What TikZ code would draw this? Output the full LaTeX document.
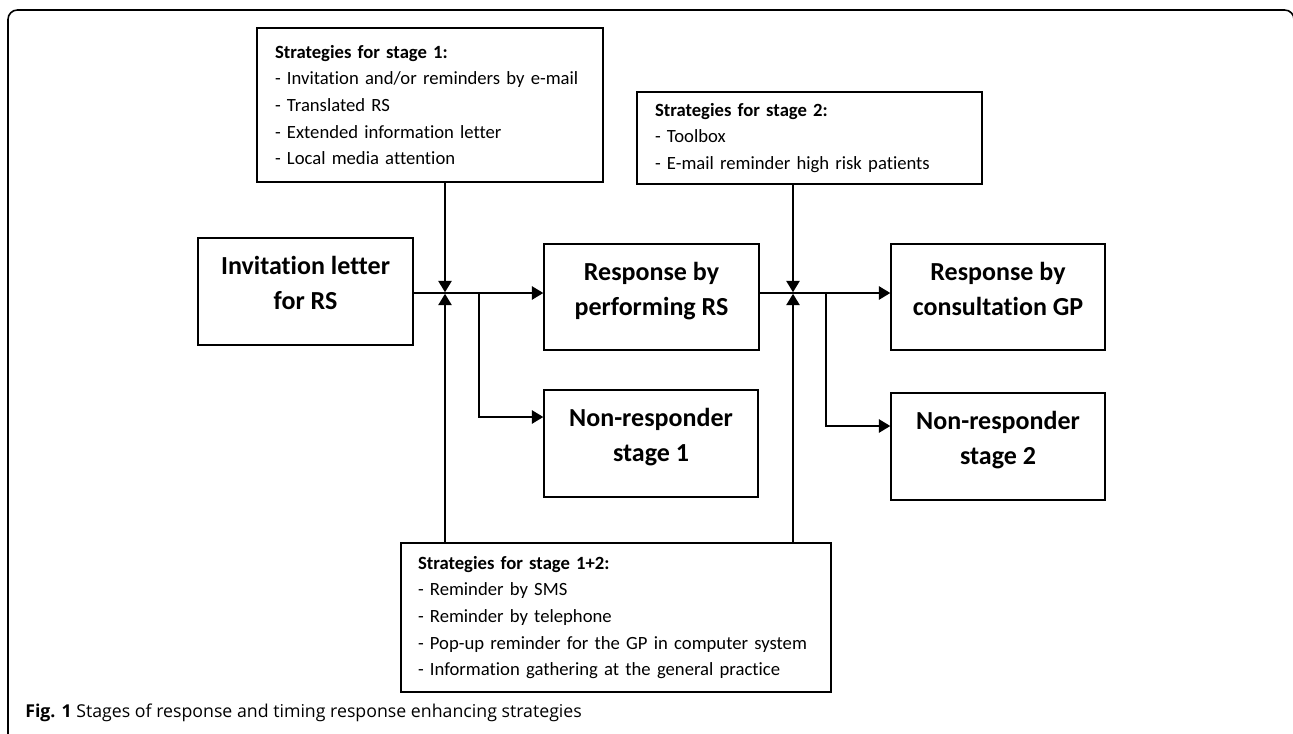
\documentclass[tikz,border=0pt]{standalone}
\usepackage{fontspec}
\setmainfont{Carlito}[Ligatures=NoCommon]
\newfontfamily\capfont{Open Sans}
\usetikzlibrary{arrows.meta}
\pgfdeclarelayer{edgelayer}
\pgfdeclarelayer{nodelayer}
\pgfsetlayers{edgelayer,nodelayer,main}
\tikzstyle{stagebox}=[rectangle, fill=white, draw=black, line width=1.1pt, inner sep=0pt, align=center, text height=27pt, text depth=0pt, font=\bfseries\fontsize{19.5}{26.25}\selectfont]
\tikzstyle{stratbox}=[rectangle, fill=white, draw=black, line width=1.1pt, inner xsep=13.5pt, inner ysep=0pt, align=left, font=\fontsize{14}{20}\selectfont]
\tikzstyle{flow}=[draw=black, line width=1.1pt, -{Triangle[length=8.5pt,width=10pt]}]
\tikzstyle{frameline}=[draw=black, line width=1.2pt, rounded corners=7pt]

\begin{document}
\begin{tikzpicture}[x=0.75pt, y=-0.75pt]
	\useasboundingbox (0,0) rectangle (1293,733);
	\begin{pgfonlayer}{nodelayer}

	%stages
		\node [style=stagebox, minimum width=161.25pt, minimum height=80.25pt] (invite) at (305.5,291.5) {Invitation letter\\for RS};
		\node [style=stagebox, minimum width=161.25pt, minimum height=79.5pt] (rs) at (651.5,297) {Response by\\performing RS};
		\node [style=stagebox, minimum width=160.5pt, minimum height=79.5pt] (gp) at (998,297) {Response by\\consultation GP};
		\node [style=stagebox, minimum width=160.5pt, minimum height=80.25pt] (nr1) at (651,443.5) {Non-responder\\stage 1};
		\node [style=stagebox, minimum width=160.5pt, minimum height=80.25pt] (nr2) at (998,446.5) {Non-responder\\stage 2};

	%strategies
		\node [style=stratbox, text width=232.5pt, minimum height=115.5pt] (st1) at (430,105) {\textbf{Strategies for stage 1:}\\- Invitation and/or reminders by e-mail\\- Translated RS\\- Extended information letter\\- Local media attention};
		\node [style=stratbox, text width=231.75pt, minimum height=69pt] (st2) at (809.5,138) {\textbf{Strategies for stage 2:}\\- Toolbox\\- E-mail reminder high risk patients};
		\node [style=stratbox, inner xsep=12.75pt, text width=297pt, minimum height=111.75pt] (st12) at (616,617.5) {\textbf{Strategies for stage 1+2:}\\- Reminder by SMS\\- Reminder by telephone\\- Pop-up reminder for the GP in computer system\\- Information gathering at the general practice};

	%caption
		\node [anchor=base west, inner sep=0pt, font=\capfont\fontsize{13.3}{16}\selectfont] (cap) at (25,717) {\textbf{Fig. 1} Stages of response and timing response enhancing strategies};

	\end{pgfonlayer}
	\begin{pgfonlayer}{edgelayer}

		\coordinate (j1) at (445,293);
		\coordinate (j2) at (793,293);
		\coordinate (b1) at (479,293);
		\coordinate (k1) at (479,417);
		\coordinate (b2) at (826,293);
		\coordinate (k2) at (826,426);

		%stage 1
		\draw [style=flow] (invite.east |- j1) to (rs.west |- j1);
		\draw [style=flow, shorten >=0.6pt] (st1.south -| j1) to (j1);
		\draw [style=flow, shorten >=0.6pt] (st12.north -| j1) to (j1);
		\draw [style=flow] (b1) -- (k1) -- (nr1.west |- k1);

		%stage 2
		\draw [style=flow] (rs.east |- j2) to (gp.west |- j2);
		\draw [style=flow, shorten >=0.6pt] (st2.south -| j2) to (j2);
		\draw [style=flow, shorten >=0.6pt] (st12.north -| j2) to (j2);
		\draw [style=flow] (b2) -- (k2) -- (nr2.west |- k2);

		%frame
		\draw [style=frameline] (8,740) -- (8,10) -- (1294,10) -- (1294,60);

	\end{pgfonlayer}
\end{tikzpicture}
\end{document}
